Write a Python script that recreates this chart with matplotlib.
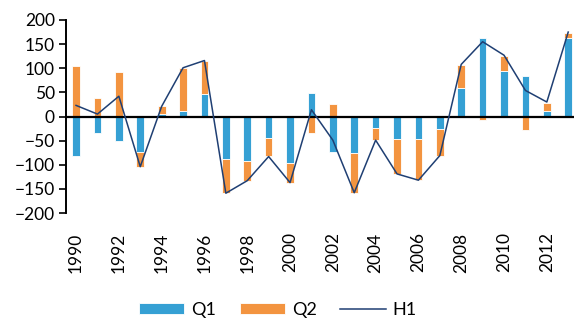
import matplotlib
matplotlib.use("Agg")
import matplotlib.pyplot as plt
import numpy as np

years = list(range(1990, 2014))
q1 = [-82, -34, -50, -73, 5, 11, 46, -89, -92, -44, -97, 49, -74, -76,
      -24, -47, -47, -25, 59, 163, 94, 83, 12, 162]
q2 = [105, 39, 92, -31, 16, 90, 69, -70, -41, -38, -40, -35, 25, -82,
      -24, -72, -85, -56, 48, -8, 32, -29, 17, 12]
h1 = [23, 5, 42, -104, 21, 101, 116, -159, -133, -83, -137, 14, -49, -158,
      -49, -119, -132, -81, 108, 155, 127, 54, 30, 175]
tick_years = [str(y) if y % 2 == 0 else "" for y in years]

plt.rcParams["font.family"] = ["Lato", "DejaVu Sans"]

fig = plt.figure(figsize=(5.74, 3.22), dpi=100)
ax = fig.add_axes([66 / 574, 1 - 213 / 322, (574 - 66) / 574, 193 / 322])

blue = "#35A0D4"
orange = "#F39440"
navy = "#1F3F73"

x = np.arange(len(years))
q1a = np.array(q1, dtype=float)
q2a = np.array(q2, dtype=float)
# Excel-style stacking: same-sign segments stack, opposite signs start at zero
q2_bottom = np.where(np.sign(q1a) == np.sign(q2a), q1a, 0)

w = 0.36
b1 = ax.bar(x, q1a, width=w, color=blue, edgecolor="white", linewidth=0.6, label="Q1", zorder=2)
b2 = ax.bar(x, q2a, width=w, bottom=q2_bottom, color=orange, edgecolor="white",
            linewidth=0.6, label="Q2", zorder=2)
(ln,) = ax.plot(x, h1, color=navy, linewidth=1.1, label="H1", zorder=4)

ax.axhline(0, color="black", linewidth=1.6, zorder=3)

ax.set_ylim(-200, 200)
ax.set_yticks(range(-200, 201, 50))
ax.set_xlim(-0.47, 23.27)
ax.set_xticks(x)
ax.set_xticklabels(tick_years, rotation=90)

for s in ["top", "right", "bottom"]:
    ax.spines[s].set_visible(False)
ax.spines["left"].set_linewidth(1.4)
ax.tick_params(axis="y", labelsize=12.5, length=5, width=1.2, pad=3)
ax.tick_params(axis="x", labelsize=12.5, length=0, pad=14)

fig.legend([b1, b2, ln], ["Q1", "Q2", "H1"], loc="center",
           bbox_to_anchor=(278 / 574, 1 - 310 / 322), ncol=3,
           frameon=False, fontsize=13, handlelength=2.5, handleheight=0.6,
           columnspacing=1.3, handletextpad=0.4)

fig.savefig("out.png", dpi=100)
